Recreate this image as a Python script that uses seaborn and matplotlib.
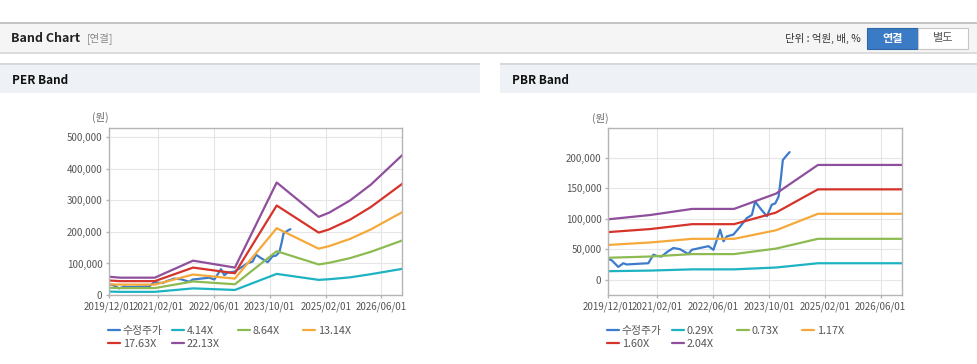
import matplotlib
matplotlib.use("Agg")
import matplotlib.pyplot as plt
from matplotlib.patches import Rectangle
from matplotlib.ticker import FuncFormatter
import pandas as pd
import seaborn as sns

# adjusted price (수정주가), same series in both panels
price_dates = ["2019-12-01", "2019-12-30", "2020-02-26", "2020-04-10", "2020-05-09", "2020-08-04",
               "2020-11-14", "2020-12-28", "2021-01-26", "2021-03-10", "2021-04-23", "2021-06-20",
               "2021-08-17", "2021-10-29", "2021-11-27", "2022-02-08", "2022-04-22", "2022-06-04",
               "2022-07-03", "2022-08-01", "2022-08-31", "2022-09-29", "2022-11-26", "2023-01-23",
               "2023-03-22", "2023-05-05", "2023-06-03", "2023-07-17", "2023-09-13", "2023-10-26",
               "2023-11-25", "2023-12-24", "2024-01-13", "2024-01-30", "2024-03-05", "2024-03-29"]
price = [34000, 32000, 21000, 27000, 25000, 26000, 27000, 41000, 39000, 38000, 45000, 52000,
         50000, 42000, 49000, 52000, 55000, 49000, 65000, 82000, 63000, 71000, 74000, 87000,
         101000, 106000, 128000, 117000, 104000, 123000, 125000, 136000, 166000, 196000, 204000, 209000]

# PER band
per_dates = ["2019-12-01", "2020-03-01", "2021-01-01", "2021-12-01", "2022-12-01", "2023-12-01",
             "2024-12-01", "2025-03-01", "2025-09-01", "2026-03-01", "2026-12-01"]
per_names = ["4.14X", "8.64X", "13.14X", "17.63X", "22.13X"]
per_414 = [11000, 10000, 10000, 21000, 16000, 67000, 48000, 50000, 56000, 66000, 83000]
per_864 = [23000, 22000, 22000, 43000, 34000, 139000, 97000, 102000, 117000, 137000, 173000]
per_1314 = [34000, 33000, 33000, 65000, 52000, 212000, 147000, 155000, 178000, 208000, 263000]
per_1763 = [46000, 44000, 44000, 87000, 69000, 284000, 198000, 208000, 239000, 279000, 353000]
per_2213 = [58000, 55000, 55000, 109000, 87000, 357000, 248000, 261000, 300000, 350000, 444000]

# PBR band
pbr_dates = ["2019-12-01", "2020-12-01", "2021-12-01", "2022-12-01", "2023-12-01", "2024-12-01",
             "2026-12-01"]
pbr_names = ["0.29X", "0.73X", "1.17X", "1.60X", "2.04X"]
pbr_029 = [14000, 15000, 17000, 17000, 20000, 27000, 27000]
pbr_073 = [36000, 38000, 42000, 42000, 51000, 67000, 67000]
pbr_117 = [57000, 61000, 67000, 67000, 81000, 108000, 108000]
pbr_160 = [78000, 83000, 91000, 91000, 110000, 148000, 148000]
pbr_204 = [99000, 106000, 116000, 116000, 141000, 188000, 188000]

tick_dates = ["2019-12-01", "2021-02-01", "2022-06-01", "2023-10-01", "2025-02-01", "2026-06-01"]
tick_labels = ["2019/12/01", "2021/02/01", "2022/06/01", "2023/10/01", "2025/02/01", "2026/06/01"]

colors = ["#3d7ccc", "#1db3c3", "#8dbb52", "#f5a93b", "#d6332b", "#8f4f9c"]

W, H = 978, 364

sns.set_theme(style="white")
plt.rcParams["font.family"] = ["Noto Sans CJK KR", "DejaVu Sans"]


def fx(x):
    return x / W


def fy(y):
    return 1 - y / H


def draw_panel(ax, names, dates, series, ylim, yticks):
    frames = [pd.DataFrame({"date": pd.to_datetime(price_dates), "value": price, "series": "수정주가"})]
    for name, vals in zip(names, series):
        frames.append(pd.DataFrame({"date": pd.to_datetime(dates), "value": vals, "series": name}))
    df = pd.concat(frames, ignore_index=True)
    order = ["수정주가"] + names
    sns.lineplot(data=df, x="date", y="value", hue="series", hue_order=order,
                 palette=colors, estimator=None, linewidth=1.6, ax=ax)
    handles, labels = ax.get_legend_handles_labels()
    ax.get_legend().remove()

    ax.set_xlim(pd.Timestamp("2019-12-01"), pd.Timestamp("2026-12-01"))
    ax.set_ylim(*ylim)
    ax.set_xticks(pd.to_datetime(tick_dates))
    ax.set_xticklabels(tick_labels)
    ax.set_yticks(yticks)
    ax.yaxis.set_major_formatter(FuncFormatter(lambda v, p: f"{v:,.0f}"))
    ax.set_xlabel("")
    ax.set_ylabel("")
    ax.grid(True, color="#e6e6e6", linewidth=0.8)
    ax.set_axisbelow(True)
    for s in ax.spines.values():
        s.set_color("#b5b5b5")
        s.set_linewidth(1.0)
    ax.tick_params(axis="both", which="major", direction="out", length=2.5, width=1.0,
                   color="#b5b5b5", labelcolor="#555555", labelsize=7, pad=2.5,
                   bottom=True, left=True)
    return handles, labels


fig = plt.figure(figsize=(W / 100, H / 100), dpi=100)
fig.patch.set_facecolor("white")

# top header bar
fig.add_artist(Rectangle((0, fy(52)), 1, (52 - 22) / H, transform=fig.transFigure,
                         facecolor="#f5f5f5", edgecolor="none"))
fig.add_artist(Rectangle((0, fy(23.5)), 1, 1.5 / H, transform=fig.transFigure,
                         facecolor="#c4c4c4", edgecolor="none"))
fig.add_artist(Rectangle((0, fy(53.5)), 1, 1.5 / H, transform=fig.transFigure,
                         facecolor="#dcdcdc", edgecolor="none"))
fig.text(fx(11), fy(38), "Band Chart", fontsize=9, fontweight="bold", color="#222222", va="center")
fig.text(fx(87), fy(38), "[연결]", fontsize=7.5, color="#8a8a8a", va="center")
fig.text(fx(861), fy(38), "단위 : 억원, 배, %", fontsize=7.5, color="#333333", va="center", ha="right")
fig.add_artist(Rectangle((fx(867), fy(49)), (918 - 867) / W, 21 / H, transform=fig.transFigure,
                         facecolor="#3b7ac4", edgecolor="#2f66a6", linewidth=0.8))
fig.add_artist(Rectangle((fx(918), fy(49)), (968 - 918) / W, 21 / H, transform=fig.transFigure,
                         facecolor="white", edgecolor="#c6c6c6", linewidth=0.8))
fig.text(fx(892.5), fy(38.5), "연결", fontsize=8, fontweight="bold", color="white", ha="center", va="center")
fig.text(fx(943), fy(38.5), "별도", fontsize=8, color="#555555", ha="center", va="center")

# panel headers
for x0, x1, title in [(0, 480, "PER Band"), (500, 978, "PBR Band")]:
    fig.add_artist(Rectangle((fx(x0), fy(93)), (x1 - x0) / W, (93 - 64) / H, transform=fig.transFigure,
                             facecolor="#eef2f7", edgecolor="none"))
    fig.add_artist(Rectangle((fx(x0), fy(65)), (x1 - x0) / W, 2 / H, transform=fig.transFigure,
                             facecolor="#d6d8db", edgecolor="none"))
    fig.text(fx(x0 + 12), fy(80.5), title, fontsize=8.5, fontweight="bold", color="#111111", va="center")

fig.text(fx(92), fy(117), "(원)", fontsize=7.5, color="#666666", va="center")
fig.text(fx(592), fy(118), "(원)", fontsize=7.5, color="#666666", va="center")

ax1 = fig.add_axes([fx(109.3), fy(295), (402.3 - 109.3) / W, (295 - 128.3) / H])
ax2 = fig.add_axes([fx(608.3), fy(295), (901.7 - 608.3) / W, (295 - 128.3) / H])

h1, l1 = draw_panel(ax1, per_names, per_dates, [per_414, per_864, per_1314, per_1763, per_2213],
                    (0, 529000), [0, 100000, 200000, 300000, 400000, 500000])
h2, l2 = draw_panel(ax2, pbr_names, pbr_dates, [pbr_029, pbr_073, pbr_117, pbr_160, pbr_204],
                    (-25000, 248000), [0, 50000, 100000, 150000, 200000])

# legends: 4 columns, items wrap to a second row
for handles, labels, cols in [(h1, l1, [108, 172, 238, 303]), (h2, l2, [607, 672, 737, 802])]:
    for k, x in enumerate(cols):
        idx = [i for i in (k, k + 4) if i < len(handles)]
        fig.legend([handles[i] for i in idx], [labels[i] for i in idx], loc="upper left",
                   bbox_to_anchor=(fx(x), fy(326)), frameon=False, borderpad=0, borderaxespad=0,
                   handlelength=1.1, handletextpad=0.25, labelspacing=0.3, fontsize=7.8,
                   labelcolor="#555555")

fig.savefig("out.png", dpi=100)
